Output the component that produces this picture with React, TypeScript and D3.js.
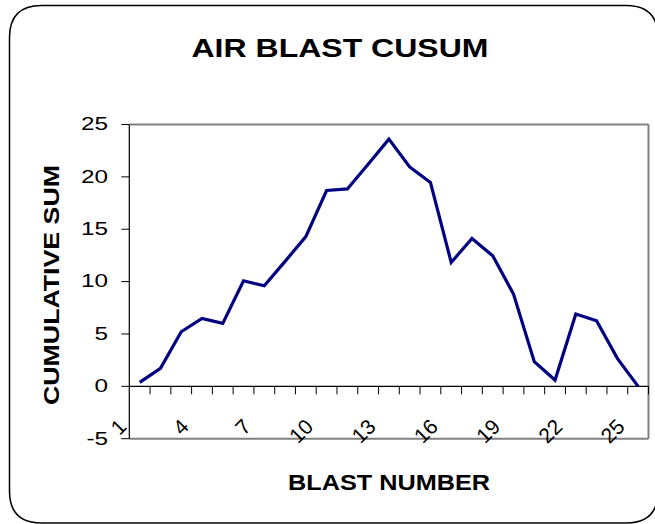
import React from "react";
import * as d3 from "d3";

const blastNumbers: number[] = Array.from({ length: 25 }, (_, i) => i + 1);
const cusumValues: number[] = [
  0.38, 1.72, 5.21, 6.49, 6.01, 10.08, 9.6, 11.93, 14.3, 18.7, 18.85, 21.2, 23.6,
  20.95, 19.47, 11.83, 14.12, 12.46, 8.81, 2.35, 0.6, 6.9, 6.26, 2.67, 0,
];
const yTicks: number[] = [-5, 0, 5, 10, 15, 20, 25];
const xTickLabels: number[] = [1, 4, 7, 10, 13, 16, 19, 22, 25];

const title = "AIR BLAST CUSUM";
const yTitle = "CUMULATIVE SUM";
const xTitle = "BLAST NUMBER";

export default function App() {
  const W = 655;
  const H = 524;
  const left = 129.3;
  const right = 648.5;
  const top = 124.5;
  const bottom = 438.7;

  const x = d3
    .scaleBand<number>()
    .domain(blastNumbers)
    .range([left, right])
    .padding(0);
  const bw = x.bandwidth();
  const y = d3.scaleLinear().domain([-5, 25]).range([bottom, top]);
  const cx = (n: number) => (x(n) as number) + bw / 2;

  const data = blastNumbers.map((n, i) => ({ n, v: cusumValues[i] }));
  const line = d3
    .line<{ n: number; v: number }>()
    .x((d) => cx(d.n))
    .y((d) => y(d.v));

  const y0 = y(0);
  const font = "Arial, 'Liberation Sans', sans-serif";

  const fx0 = 9.5, fy0 = 5.5, fx1 = 658, fy1 = 523, r = 32;
  const frame = `M${fx0 + r},${fy0} L${fx1 - r},${fy0} Q${fx1},${fy0} ${fx1},${fy0 + r} L${fx1},${fy1 - r} Q${fx1},${fy1} ${fx1 - r},${fy1} L${fx0 + r},${fy1} Q${fx0},${fy1} ${fx0},${fy1 - r} L${fx0},${fy0 + r} Q${fx0},${fy0} ${fx0 + r},${fy0} Z`;

  return (
    <svg
      width={W}
      height={H}
      style={{ position: "absolute", left: 0, top: 0, background: "#fff" }}
      fontFamily={font}
    >
      <rect x={0} y={0} width={W} height={H} fill="#fff" />
      <path d={frame} fill="none" stroke="#000" strokeWidth={1.5} />

      <text
        x={340}
        y={57}
        textAnchor="middle"
        fontSize={25}
        fontWeight="bold"
        textLength={297}
        lengthAdjust="spacingAndGlyphs"
      >
        {title}
      </text>

      <line x1={left} x2={right} y1={top} y2={top} stroke="#808080" strokeWidth={2} />
      <line x1={right} x2={right} y1={top} y2={bottom} stroke="#808080" strokeWidth={2} />
      <line x1={left} x2={right} y1={bottom} y2={bottom} stroke="#808080" strokeWidth={2} />

      <line x1={left} x2={left} y1={top} y2={bottom} stroke="#000" strokeWidth={1.2} />
      {yTicks.map((t) => (
        <g key={t}>
          <line x1={left - 8} x2={left} y1={y(t)} y2={y(t)} stroke="#000" strokeWidth={1} />
          <g transform={`translate(108,${y(t)}) scale(1.35,1)`}>
            <text x={0} y={0} textAnchor="end" dominantBaseline="central" fontSize={18}>
              {t}
            </text>
          </g>
        </g>
      ))}

      <line x1={left} x2={right} y1={y0} y2={y0} stroke="#000" strokeWidth={1.2} />
      {blastNumbers.map((n) => (
        <line
          key={n}
          x1={(x(n) as number) + bw}
          x2={(x(n) as number) + bw}
          y1={y0}
          y2={y0 + 8}
          stroke="#000"
          strokeWidth={1}
        />
      ))}
      {xTickLabels.map((n) => (
        <g key={n} transform={`translate(${cx(n) - 12},428) rotate(-45)`}>
          <text x={0} y={0} textAnchor="end" fontSize={21}>
            {n}
          </text>
        </g>
      ))}

      <path
        d={line(data) as string}
        fill="none"
        stroke="#000080"
        strokeWidth={3.2}
        strokeLinejoin="miter"
      />

      <g transform={`translate(59.3,285) rotate(-90)`}>
        <text
          x={0}
          y={0}
          textAnchor="middle"
          fontSize={22}
          fontWeight="bold"
          textLength={240}
          lengthAdjust="spacingAndGlyphs"
        >
          {yTitle}
        </text>
      </g>
      <text
        x={389}
        y={490}
        textAnchor="middle"
        fontSize={22}
        fontWeight="bold"
        textLength={202}
        lengthAdjust="spacingAndGlyphs"
      >
        {xTitle}
      </text>
    </svg>
  );
}
